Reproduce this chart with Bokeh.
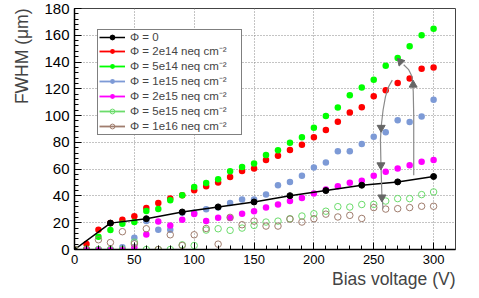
import math
import numpy as np
from bokeh.plotting import figure
from bokeh.models import Legend, LegendItem, Title, SingleIntervalTicker, Range1d
from bokeh.embed import file_html
from bokeh.resources import INLINE

# ---------------- data ----------------
bias = list(range(0, 310, 10))

bias_phi0 = [0, 30, 60, 90, 120, 150, 180, 210, 240, 270, 300]
fwhm_phi0 = [0, 19.7, 23, 28, 31.8, 35.5, 40.2, 44, 48, 50.5, 54.5]

fwhm_2e14 = [0, 4.2, 14.8, 19.7, 22.3, 24.8, 31, 34.7, 38, 40.5, 44.3, 47.3, 50, 54.2, 58.7, 60.5,
             66.8, 70, 74.3, 78.2, 83.8, 89.3, 95.5, 102.3, 106.3, 114.5, 119, 124.3, 127.8, 135, 136]
fwhm_5e14 = [0, 0.5, 9.5, 14.5, 19.3, 20.5, 28.7, 30.2, 36.8, 40.5, 46.7, 49.7, 52.5, 58.5, 61.7, 64.3,
             70.5, 74.2, 79.7, 83.8, 91, 99.8, 106, 115.3, 121, 126.8, 137.3, 143, 151.8, 160, 164.8]
fwhm_1e15 = [0, 0, 0, 0, 1.7, 8.8, 21.2, 14.7, 14.7, 27.5, 27.5, 30, 31.4, 34.7, 37.3, 37.3,
             41, 48, 50.5, 55, 61.3, 65, 73.3, 73.3, 78.8, 84.3, 87.5, 96.5, 95.3, 99.3, 111.8]
fwhm_2e15 = [0, 0, 0, 0, 0, 1.7, 11.2, 21, 18, 22.2, 26.5, 21.2, 23.7, 23.6, 26.7, 28.5,
             31.3, 33.7, 36.2, 38.5, 41.8, 44.8, 47.3, 49.8, 51.3, 55, 58, 60.5, 63, 65.5, 66.8]
fwhm_5e15 = [0, 0, 0, 0, 0, 5.5, 0, 0, 0, 3.5, 3, 14.5, 15.5, 14.3, 16, 18,
             20.5, 21.2, 23, 25, 26.7, 28.6, 32, 31.7, 33.6, 33.7, 36.2, 38, 38, 41, 43]
fwhm_1e16 = [0, 0, 7.3, 5.2, 13.3, 4.2, 15.5, 0, 11, 3, 11, 15.7, 4, 24, 18.5, 21.2,
             17.5, 17.5, 22.7, 20.5, 23, 26.4, 24.3, 25.5, 23.2, 31.3, 30.2, 30.5, 31.3, 32.3, 32.3]

labels = ["Φ = 0", "Φ = 2e14 neq cm⁻²", "Φ = 5e14 neq cm⁻²", "Φ = 1e15 neq cm⁻²",
          "Φ = 2e15 neq cm⁻²", "Φ = 5e15 neq cm⁻²", "Φ = 1e16 neq cm⁻²"]
colors = ["#000000", "#ff0000", "#00ff00", "#7d9ad6", "#ff00ff", "#6bdc6b", "#a07d6e"]

# arrows (annotation paths, data units)
arrow_down_x = [265.5, 262.5, 259.8, 257.8, 256.2, 255.6, 256.0, 256.8, 257.8]
arrow_down_y = [126.5, 121.7, 114.2, 104.2, 91.7, 81.7, 64.5, 40.5, 30.5]
heads_down_x = [256.2, 256.0, 256.8]
heads_down_y = [91.0, 63.0, 39.0]
arrow_up_x = [283.4, 283.4, 283.0, 282.0, 279.2, 275.0]
arrow_up_y = [55.5, 100.0, 118.0, 129.2, 134.3, 138.0]
heads_up_x = [282.9, 272.3]
heads_up_y = [123.0, 140.3]
heads_up_angle = [0.0, 0.75]

x_end = 318.3
y_end = 180
FONT = "Liberation Sans"

# ---------------- figure ----------------
p = figure(width=467, height=292, output_backend="svg", toolbar_location=None,
           x_range=Range1d(0, x_end), y_range=Range1d(0, y_end),
           min_border_left=73, min_border_right=12, min_border_top=8, min_border_bottom=43,
           background_fill_color="white", border_fill_color="white")
p.outline_line_color = "#444444"
p.outline_line_width = 1

for ax, interval, fs in ((p.xaxis[0], 50, "13px"), (p.yaxis[0], 20, "15px")):
    ax.ticker = SingleIntervalTicker(interval=interval, num_minor_ticks=5)
    ax.major_tick_in = 7
    ax.major_tick_out = 0
    ax.minor_tick_in = 4
    ax.minor_tick_out = 0
    ax.axis_line_width = 1.5
    ax.major_tick_line_width = 1
    ax.major_label_text_font = FONT
    ax.major_label_text_font_size = fs
    ax.major_label_text_color = "black"
    ax.major_label_standoff = 5

p.grid.grid_line_color = "#888888"
p.grid.grid_line_dash = "1 2"
p.grid.grid_line_width = 1
p.xgrid.ticker = p.xaxis[0].ticker
p.ygrid.ticker = p.yaxis[0].ticker

series = [fwhm_2e14, fwhm_5e14, fwhm_1e15, fwhm_2e15]
items = []
renderers = {}

for i, ys in enumerate(series, start=1):
    r = p.scatter(bias, ys, size=6.5, color=colors[i], line_width=0)
    renderers[i] = r

black_line = p.line(bias_phi0, fwhm_phi0, color="black", line_width=1.5)
black_pts = p.scatter(bias_phi0, fwhm_phi0, size=6, color="black")

for i, ys in ((5, fwhm_5e15), (6, fwhm_1e16)):
    r = p.scatter(bias, ys, size=6.5, fill_color=None, line_color=colors[i], line_width=1)
    renderers[i] = r

# arrows
p.line(arrow_down_x, arrow_down_y, color="#8a8a8a", line_width=1.2)
p.line(arrow_up_x, arrow_up_y, color="#8a8a8a", line_width=1.2)
p.scatter(heads_down_x, heads_down_y, marker="triangle", size=8, angle=math.pi,
          color="#666666")
p.scatter(heads_up_x, heads_up_y, marker="triangle", size=8, angle=heads_up_angle,
          color="#666666")

# legend items
items.append(LegendItem(label=labels[0], renderers=[black_line, black_pts]))
for i in range(1, 7):
    dummy = p.line([np.nan], [np.nan], color=colors[i], line_width=1.8)
    items.append(LegendItem(label=labels[i], renderers=[dummy, renderers[i]]))

legend = Legend(items=items, location=(23, 114), border_line_color="black",
                border_line_width=1, background_fill_color="white", background_fill_alpha=1,
                padding=1, spacing=-2, glyph_height=12, glyph_width=26, label_height=12,
                label_width=110, label_standoff=5, margin=0,
                label_text_font=FONT, label_text_font_size="11.5px")
p.add_layout(legend, "center")

# axis titles (ROOT style: at the end of the axes)
p.add_layout(Title(text="Bias voltage (V)", align="right", text_font=FONT,
                   text_font_size="17.5px", text_font_style="normal", standoff=0), "below")
p.add_layout(Title(text="FWHM (μm)", align="right", text_font=FONT,
                   text_font_size="17.5px", text_font_style="normal", standoff=19), "left")

open("out.html", "w").write(file_html(p, INLINE))
